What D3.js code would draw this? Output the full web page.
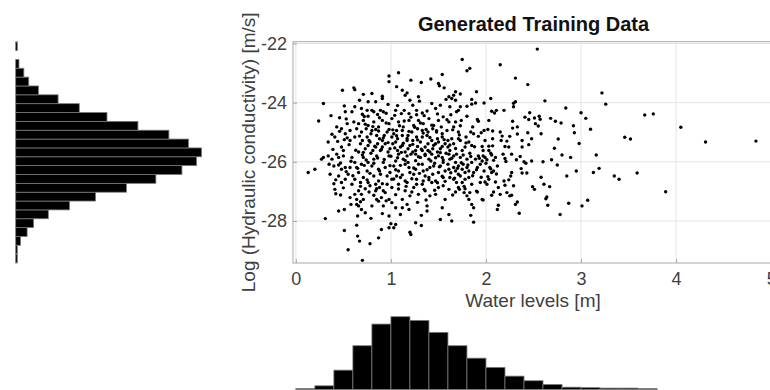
<!DOCTYPE html>
<html>
<head>
<meta charset="utf-8">
<script src="https://cdn.jsdelivr.net/npm/d3@7"></script>
<style>
  body { margin: 0; background: #fff; }
  text { font-family: "Liberation Sans", Arial, Helvetica, sans-serif; }
</style>
</head>
<body>
<div id="chart"></div>
<script>
// scatter samples: [water level (m), log hydraulic conductivity (m/s)]
const samples = [
  [3.67,-24.42],[3.76,-24.38],[3.46,-25.17],[3.52,-25.23],[4.05,-24.83],[4.31,-25.33],[4.84,-25.30],[3.35,-26.48],[3.40,-26.59],[3.59,-26.38],[3.89,-27.01],
  [2.54,-22.19],[1.75,-22.54],[2.15,-22.72],[1.83,-22.84],[1.80,-22.92],[2.31,-23.17],[2.44,-23.39],[3.22,-23.67],[3.26,-24.05],[2.62,-23.94],[2.84,-24.18],[3.00,-24.34],[3.05,-24.53],[3.10,-24.90],[2.92,-24.78],[2.93,-25.02],[2.98,-25.38],[2.76,-25.23],[2.72,-25.54],[2.68,-24.53],[2.73,-24.63],[2.79,-24.69],[2.58,-25.05],[2.46,-24.34],[2.41,-24.49],[2.45,-24.57],[2.51,-24.52],[2.56,-24.46],[2.57,-24.56],[2.52,-24.71],[2.55,-24.79],[2.29,-24.02],[2.31,-23.97],[2.29,-24.14],[2.19,-24.26],[2.28,-24.63],[2.28,-24.86],[2.33,-24.82],[2.44,-25.02],[2.48,-25.22],[2.45,-25.42],[2.38,-25.28],[2.38,-25.50],[2.33,-25.06],[2.25,-25.14],[2.22,-25.30],[2.20,-25.48],[2.24,-25.50],[2.11,-24.26],[2.09,-24.35],[2.06,-24.29],[2.05,-23.86],[1.98,-24.01],[1.90,-23.63],[2.03,-24.60],[2.02,-24.91],[2.07,-24.96],[2.15,-24.99],[2.17,-25.13],[2.16,-25.28],[2.07,-25.22],[2.07,-25.46],[1.98,-24.94],[1.95,-25.02],[1.92,-25.14],[1.91,-24.57],[1.92,-24.63],[1.80,-24.46],[1.74,-24.60],[1.73,-24.78],[1.86,-24.82],[1.84,-24.99],[1.87,-25.05],[1.85,-23.89],[1.89,-24.01],[1.85,-24.05],[1.80,-24.12],[1.73,-24.14],[1.69,-24.31],[1.71,-24.26],[1.68,-23.63],[1.73,-23.71],[1.66,-23.75],[1.64,-23.86],[1.68,-23.92],[1.71,-24.99],[1.71,-25.22],[1.79,-25.16],[1.73,-25.28],[1.82,-25.33],[1.85,-25.45],[1.78,-25.50],[1.66,-25.39],[1.99,-25.28],[1.96,-25.48],[2.03,-25.62],[1.66,-24.82],[1.68,-24.65],
  [3.16,-25.77],[2.89,-25.85],[2.80,-25.77],[2.69,-25.93],[2.60,-26.00],[2.48,-25.97],[2.40,-26.00],[2.42,-26.05],[2.36,-25.82],[2.37,-26.23],[2.38,-26.38],[2.43,-26.38],[2.32,-25.93],[2.27,-25.74],[2.20,-25.89],[2.21,-25.99],[2.18,-25.74],[2.12,-26.14],[2.10,-25.85],[2.06,-25.77],[2.05,-25.71],[1.99,-25.85],[2.01,-25.93],[1.97,-25.80],[2.75,-26.11],[2.85,-26.48],[2.95,-26.31],[3.13,-26.36],[3.19,-26.22],[2.58,-26.52],[2.61,-26.76],[2.67,-26.84],[2.49,-26.84],[2.51,-26.93],[2.64,-27.19],[2.63,-27.25],[2.65,-27.47],[2.87,-27.40],[3.01,-27.49],[3.07,-27.30],[2.78,-27.78],[2.27,-26.36],[2.26,-26.48],[2.24,-26.61],[2.29,-26.81],[2.22,-27.04],[2.25,-27.15],[2.27,-27.13],[2.33,-27.36],[2.31,-27.44],[2.35,-27.74],[2.19,-26.65],[2.20,-26.79],[2.13,-26.87],[2.15,-27.10],[2.12,-27.61],[2.13,-27.47],[2.06,-27.13],[2.08,-27.02],[2.01,-26.76],[1.99,-26.68],[2.03,-26.59],[1.96,-27.27],[1.97,-27.29],[2.06,-26.36],[2.08,-26.31],[2.04,-26.19],[2.02,-26.50],[2.10,-26.68],[1.91,-27.02],[1.90,-26.99],[1.94,-26.70],[1.85,-27.44],[1.87,-27.55],[1.84,-27.81],[1.87,-28.04],[1.82,-27.27],[1.80,-27.15],[1.83,-27.04],[1.77,-27.04],[1.78,-26.91],[1.71,-26.87],[1.68,-27.02],[1.64,-28.00],[1.75,-26.70],[1.78,-26.59],[1.73,-26.48],[1.82,-26.53],[1.85,-26.76],[1.87,-26.36],[1.91,-26.19],[1.94,-26.08],[1.96,-25.97],[1.98,-26.31],
  [1.66,-25.80],[1.69,-25.74],[1.73,-25.85],[1.76,-25.77],[1.80,-25.91],[1.84,-25.82],[1.68,-26.02],[1.71,-26.14],[1.76,-26.08],[1.80,-26.19],[1.68,-26.31],[1.71,-26.42],[1.66,-26.59],[1.69,-26.70],[1.85,-26.02],[1.89,-25.91],[1.92,-25.80],[1.82,-26.31],[1.78,-26.36],[1.75,-26.25],[1.66,-26.19],
  [0.13,-26.36],[0.20,-26.25],[0.27,-25.91],[0.31,-27.92],[0.40,-26.74],[0.41,-26.93],[0.42,-27.08],[0.47,-27.12],[0.45,-27.66],[0.51,-27.61],[0.51,-28.32],[0.55,-28.97],[0.64,-28.14],[0.65,-28.51],[0.67,-28.68],[0.70,-29.33],[0.78,-28.77],[0.87,-28.57],[0.90,-28.29],[0.79,-27.91],[0.65,-27.83],[0.73,-27.72],[0.69,-27.61],[0.58,-27.44],[0.64,-27.44],[0.68,-27.35],[0.66,-27.49],[0.57,-27.21],[0.62,-27.10],[0.69,-27.10],[0.71,-27.27],[0.80,-27.49],[0.91,-27.75],[0.92,-27.49],[0.98,-27.83],[1.00,-28.09],[0.98,-28.23],[1.03,-28.23],[1.05,-28.12],[1.20,-28.38],[1.21,-28.46],[1.26,-28.06],[1.32,-28.15],[1.32,-27.81],[1.38,-27.66],[1.38,-27.49],[1.52,-27.95],[1.61,-27.78],[1.54,-27.55],[1.57,-27.27],[1.10,-27.78],[1.12,-27.55],[1.17,-27.44],[1.19,-27.61],[1.01,-27.38],[1.05,-27.55],[0.98,-27.27],[0.90,-27.21],[0.95,-27.32],[0.82,-27.13],[0.85,-27.27],[0.73,-26.91],[0.78,-26.81],[0.84,-26.98],[0.88,-26.87],[0.62,-26.59],[0.59,-26.76],[0.55,-26.42],[0.57,-26.19],[0.52,-26.19],[0.48,-26.25],[0.45,-26.11],[0.40,-26.14],[0.38,-25.91],[0.43,-25.74],[0.45,-25.85],[0.50,-25.80],[0.34,-25.80],[0.29,-25.85],
  [1.12,-27.27],[1.15,-26.98],[1.20,-27.15],[1.24,-26.87],[1.29,-27.10],[1.33,-26.76],[1.36,-26.98],[1.41,-27.15],[1.47,-27.10],[1.50,-26.87],[1.43,-26.70],[1.40,-26.53],[1.27,-26.59],[1.17,-26.70],[1.08,-26.76],[1.01,-26.87],[0.96,-26.76],[0.94,-27.04],[1.01,-26.59],[1.06,-26.48],[1.55,-26.81],[1.61,-26.93],
  [0.66,-26.36],[0.71,-26.53],[0.76,-26.70],[0.82,-26.48],[0.87,-26.25],[0.92,-26.02],[0.98,-25.80],[1.03,-26.14],[1.08,-26.31],[1.13,-25.91],[1.19,-26.19],[1.24,-26.42],[1.29,-26.08],[1.34,-26.31],[1.40,-25.91],[1.45,-26.14],[1.50,-26.36],[1.55,-26.02],[1.61,-26.25],[0.76,-26.02],[0.71,-25.85],[0.82,-25.91],[0.62,-26.02],[0.87,-26.65],[1.26,-25.74],[1.36,-25.74],[1.50,-25.80],[1.61,-25.74],[1.62,-26.53],[1.55,-26.53],
  [0.59,-25.85],[0.64,-26.19],[0.69,-26.08],[0.75,-26.31],[0.80,-26.14],[0.85,-25.80],[0.89,-26.42],[0.94,-26.19],[0.99,-26.36],[1.05,-25.97],[1.10,-26.53],[1.15,-26.08],[1.20,-26.36],[1.26,-26.25],[1.31,-25.85],[1.36,-26.48],[1.41,-26.19],[1.47,-26.65],[1.52,-26.14],[1.57,-26.31],[1.62,-25.91],[0.68,-26.70],[0.84,-26.76],[1.15,-26.65],[1.34,-26.65],[1.08,-25.74],[1.17,-25.80],[1.43,-25.74],[1.54,-25.85],[0.71,-25.68],
  [0.52,-26.59],[0.45,-26.48],[0.48,-26.70],[0.66,-26.98],[0.64,-27.27],
  [0.98,-23.10],[0.98,-23.29],[1.08,-22.99],[1.21,-23.24],[1.32,-23.32],[1.42,-23.20],[1.54,-23.05],[1.50,-23.35],[1.51,-23.43],[1.56,-23.50],[0.49,-23.58],[0.61,-23.50],[0.62,-23.56],[0.29,-24.03],[0.24,-24.62],[0.37,-24.44],[0.46,-24.51],[0.51,-24.11],[0.52,-24.31],[0.71,-23.72],[0.80,-23.69],[0.91,-23.78],[0.91,-23.86],[0.67,-23.92],[0.76,-23.97],[0.84,-23.97],[1.06,-23.46],[1.12,-23.58],[1.15,-23.75],[1.17,-23.67],[1.29,-23.80],[1.30,-23.95],[1.43,-24.03],[1.47,-24.20],[1.52,-24.09],[1.61,-23.80],[1.58,-23.89],[1.62,-24.14],[0.97,-24.06],[1.05,-24.26],[1.07,-24.10],[0.62,-24.14],[0.59,-24.31],[0.69,-24.20],[0.75,-24.26],[0.80,-24.26],[0.82,-24.31],[0.70,-24.39],[0.76,-24.46],[0.89,-24.26],[0.92,-24.31],[0.86,-24.40],[1.20,-23.92],[1.23,-24.09],[1.27,-24.26],[1.33,-24.35],[1.38,-24.28],[1.14,-24.26],[1.19,-24.37],[0.61,-24.65],[0.66,-24.71],[0.54,-24.71],[0.48,-24.88],[0.43,-24.82],[0.38,-25.07],[0.34,-25.33],[0.41,-25.16],[0.52,-25.05],[0.57,-24.94],[0.51,-25.25],[0.57,-25.28],[0.48,-25.50],[0.62,-25.16],
  [0.71,-24.60],[0.76,-24.77],[0.82,-24.65],[0.87,-24.82],[0.91,-24.60],[0.98,-24.71],[1.01,-24.54],[1.08,-24.65],[1.13,-24.82],[1.19,-24.60],[1.24,-24.77],[1.29,-24.60],[1.34,-24.71],[1.40,-24.54],[1.45,-24.77],[1.50,-24.60],[1.55,-24.48],[1.61,-24.65],
  [0.69,-24.99],[0.75,-25.16],[0.80,-24.94],[0.85,-25.11],[0.91,-25.28],[0.96,-24.99],[1.01,-25.16],[1.06,-24.94],[1.12,-25.11],[1.17,-25.28],[1.22,-24.99],[1.27,-25.16],[1.33,-24.94],[1.38,-25.11],[1.43,-25.28],[1.48,-24.99],[1.54,-25.16],[1.59,-24.94],[1.64,-25.22],
  [0.68,-25.39],[0.73,-25.56],[0.78,-25.33],[0.84,-25.50],[0.89,-25.62],[0.94,-25.39],[0.99,-25.56],[1.05,-25.33],[1.10,-25.50],[1.15,-25.67],[1.20,-25.45],[1.26,-25.62],[1.31,-25.33],[1.36,-25.50],[1.41,-25.67],[1.47,-25.39],[1.52,-25.56],[1.57,-25.39],[1.62,-25.62],
  [0.74,-24.88],[0.79,-25.05],[0.84,-24.91],[0.88,-25.22],[0.93,-25.11],[0.98,-24.91],[1.03,-25.05],[1.07,-25.22],[1.12,-24.94],[1.18,-25.11],[1.23,-25.28],[1.28,-24.88],[1.33,-25.16],[1.39,-24.99],[1.44,-24.88],[1.49,-25.22],[1.54,-25.05],[1.60,-25.28],[0.70,-25.28],[0.76,-25.45],[0.81,-25.62],[0.86,-25.39],[0.91,-25.50],[0.97,-25.67],[1.02,-25.39],[1.07,-25.62],[1.12,-25.45],[1.18,-25.56],[1.23,-25.67],[1.28,-25.48],[1.33,-25.62],[1.39,-25.39],[1.44,-25.56],[1.49,-25.67],[1.54,-25.48],[1.60,-25.50],[0.66,-25.67],
  [0.56,-25.42],[0.58,-25.98],[0.60,-26.47],[0.63,-25.61],[0.64,-24.88],[0.65,-26.22],[0.67,-25.13],[0.68,-26.83],[0.70,-25.77],[0.72,-26.12],[0.73,-24.73],[0.74,-25.94],[0.75,-26.61],[0.77,-25.28],[0.78,-26.39],[0.79,-25.71],[0.81,-24.81],[0.82,-26.05],[0.83,-25.47],[0.85,-26.91],[0.86,-25.87],[0.87,-24.96],[0.88,-26.31],[0.90,-25.58],[0.91,-26.74],[0.92,-25.19],[0.93,-25.92],[0.95,-24.69],[0.96,-26.48],[0.97,-25.35],[0.99,-26.13],[1.00,-25.81],[1.02,-24.92],[1.03,-26.58],[1.04,-25.53],[1.05,-26.27],
  [1.06,-25.12],[1.07,-25.86],[1.08,-26.92],[1.09,-24.78],[1.10,-26.12],[1.11,-25.68],[1.12,-26.44],[1.13,-25.37],[1.14,-24.62],[1.15,-25.95],[1.16,-26.83],[1.17,-25.21],[1.18,-26.02],[1.19,-24.97],[1.21,-25.74],[1.22,-26.57],[1.23,-25.41],[1.24,-26.21],[1.25,-24.83],[1.26,-25.96],[1.27,-26.76],[1.28,-25.26],[1.29,-25.83],[1.30,-26.39],[1.31,-24.69],[1.32,-25.57],[1.33,-26.08],[1.34,-25.03],[1.35,-26.93],[1.36,-25.79],[1.37,-24.91],[1.38,-26.27],[1.39,-25.62],[1.40,-26.61],[1.41,-25.18],[1.42,-25.97],[1.43,-24.76],[1.44,-26.42],[1.45,-25.44],[1.46,-26.05],[1.47,-25.86],[1.48,-24.95],[1.49,-26.71],[1.50,-25.33],[1.51,-26.17],[1.52,-25.69],[1.53,-24.82],[1.54,-26.49],[1.55,-25.94],
  [1.56,-25.25],[1.57,-26.66],[1.58,-25.71],[1.59,-24.58],[1.60,-26.08],[1.62,-25.43],[1.63,-26.37],[1.64,-25.88],[1.65,-24.92],[1.67,-26.55],[1.68,-25.55],[1.70,-26.22],[1.72,-25.09],[1.74,-26.03],[1.75,-25.62],[1.77,-26.83],[1.79,-25.36],[1.81,-26.11],[1.83,-25.71],[1.86,-26.47],[1.88,-25.49],[1.90,-26.27],[1.93,-25.88],[1.95,-26.52],[1.97,-25.62],[2.00,-26.05],[2.03,-25.47],[2.05,-26.24],[2.08,-25.95],[2.11,-26.41],
  [0.88,-24.51],[1.04,-24.43],[1.21,-24.49],[1.35,-24.44],[1.49,-24.38],[0.72,-24.47],[1.63,-24.41],[1.11,-24.37],[0.95,-24.36],[1.27,-24.41],
  [0.77,-27.02],[0.92,-26.98],[1.05,-27.11],[1.22,-27.02],[1.37,-27.29],[1.46,-26.96],[1.65,-27.12],[0.87,-27.33],[1.28,-27.37],[1.72,-26.93],
  [0.36,-26.42],[0.39,-25.58],[0.44,-25.31],[0.47,-26.04],[0.50,-25.62],[0.53,-26.33],[0.54,-25.19],[0.42,-26.61],[0.35,-26.08],[0.50,-26.88],[0.46,-24.97],[0.53,-24.55]
];

// marginal histogram counts
const waterLevelCounts = [2, 8, 42, 95, 142, 158, 150, 124, 95, 68, 48, 29, 19, 11, 5, 4, 3, 3, 2];
// low -> high log K
const logKCounts = [1, 1, 3, 7, 11, 20, 33, 49, 68, 86, 102, 111, 114, 106, 94, 75, 56, 39, 26, 14, 8, 5, 2, 0, 1];

const xTicks = [0, 1, 2, 3, 4, 5];
const yTicks = [-28, -26, -24, -22];
const xDomain = [-0.03, 5.03];
const yDomain = [-29.42, -21.94];

const width = 770, height = 390;
const plot = {left: 293, right: 774, top: 41.7, bottom: 263};

const svg = d3.select("#chart").append("svg")
    .attr("width", width)
    .attr("height", height);

let x = d3.scaleLinear().domain(xDomain).range([plot.left, plot.right]);
let y = d3.scaleLinear().domain(yDomain).range([plot.bottom, plot.top]);

// grid
svg.append("g").selectAll("line").data(xTicks).enter().append("line")
    .attr("x1", d => x(d)).attr("x2", d => x(d))
    .attr("y1", plot.top).attr("y2", plot.bottom)
    .attr("stroke", "#e4e4e4");
svg.append("g").selectAll("line").data(yTicks).enter().append("line")
    .attr("y1", d => y(d)).attr("y2", d => y(d))
    .attr("x1", plot.left).attr("x2", plot.right)
    .attr("stroke", "#e4e4e4");

// points
svg.append("g").selectAll("circle").data(samples).enter().append("circle")
    .attr("cx", d => x(d[0]))
    .attr("cy", d => y(d[1]))
    .attr("r", 1.7)
    .attr("fill", "#000");

// box
svg.append("rect")
    .attr("x", plot.left).attr("y", plot.top)
    .attr("width", plot.right - plot.left).attr("height", plot.bottom - plot.top)
    .attr("fill", "none").attr("stroke", "#a8a8a8");

// axes
let xAxis = svg.append("g")
    .attr("transform", `translate(0,${plot.bottom})`)
    .call(d3.axisBottom(x).tickValues(xTicks).tickSize(-4).tickPadding(9).tickFormat(d => String(d)));
let yAxis = svg.append("g")
    .attr("transform", `translate(${plot.left},0)`)
    .call(d3.axisLeft(y).tickValues(yTicks).tickSize(-4).tickPadding(6).tickFormat(d => String(d)));
[xAxis, yAxis].forEach(function(a) {
    a.select(".domain").remove();
    a.selectAll(".tick line").attr("stroke", "#a8a8a8");
    a.selectAll("text").attr("fill", "#404040").style("font-size", "18px");
});

svg.append("text")
    .attr("x", (plot.left + plot.right) / 2).attr("y", 31)
    .attr("text-anchor", "middle")
    .style("font-size", "20px").style("font-weight", "bold")
    .attr("fill", "#111")
    .text("Generated Training Data");

svg.append("text")
    .attr("x", 533).attr("y", 307)
    .attr("text-anchor", "middle")
    .style("font-size", "19px")
    .attr("fill", "#404040")
    .text("Water levels [m]");

svg.append("text")
    .attr("transform", `translate(255,${(plot.top + plot.bottom) / 2}) rotate(-90)`)
    .attr("text-anchor", "middle")
    .style("font-size", "19px")
    .attr("fill", "#404040")
    .text("Log (Hydraulic conductivity) [m/s]");

// bottom histogram (water levels), 0.2 m bins
const bottomBase = 389.5;
let hx = d3.scaleLinear().domain(xDomain).range([plot.left, plot.right]);
let hy = d3.scaleLinear().domain([0, 158]).range([bottomBase, bottomBase - 72.8]);
const binW = 0.2;
svg.append("g").selectAll("rect").data(waterLevelCounts).enter().append("rect")
    .attr("x", (d, i) => hx(i * binW))
    .attr("width", (d, i) => hx((i + 1) * binW) - hx(i * binW))
    .attr("y", d => hy(d))
    .attr("height", d => bottomBase - hy(d))
    .attr("fill", "#000")
    .attr("stroke", "#7a7a7a")
    .attr("stroke-width", 0.8);

// left histogram (log K)
const leftBase = 15.7;
const kBin = (yDomain[1] - yDomain[0]) / logKCounts.length;
let lx = d3.scaleLinear().domain([0, 114]).range([leftBase, 201.5]);
svg.append("g").selectAll("rect").data(logKCounts).enter().append("rect")
    .attr("y", (d, i) => y(yDomain[0] + (i + 1) * kBin))
    .attr("height", (d, i) => y(yDomain[0] + i * kBin) - y(yDomain[0] + (i + 1) * kBin))
    .attr("x", leftBase)
    .attr("width", d => lx(d) - leftBase)
    .attr("fill", "#000")
    .attr("stroke", "#7a7a7a")
    .attr("stroke-width", 0.8);
</script>
</body>
</html>
